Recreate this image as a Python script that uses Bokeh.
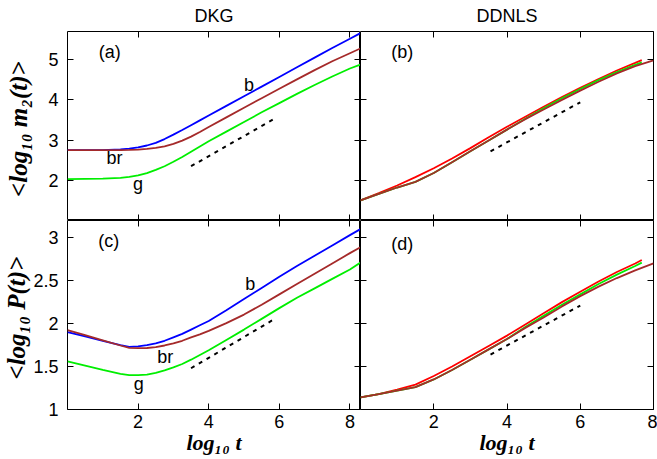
from bokeh.plotting import figure
from bokeh.models import Range1d, LinearAxis, FixedTicker, CustomJSTickFormatter
from bokeh.layouts import gridplot
from bokeh.embed import file_html
from bokeh.resources import INLINE
from bokeh.core.properties import value

# ---------------- data ----------------
# Panel (a): DKG, <log10 m2(t)>
xa = [0.0, 0.5, 1.0, 1.5, 1.75, 2.0, 2.25, 2.5, 2.75, 3.0, 3.25, 3.5, 3.75, 4.0,
      4.5, 5.0, 5.5, 6.0, 6.5, 7.0, 7.5, 8.0, 8.3]
a_blue = [2.75, 2.75, 2.752, 2.768, 2.788, 2.82, 2.865, 2.93, 3.025, 3.135, 3.25, 3.37, 3.49, 3.61,
          3.85, 4.09, 4.33, 4.57, 4.81, 5.05, 5.29, 5.52, 5.66]
a_brown = [2.75, 2.75, 2.75, 2.752, 2.756, 2.765, 2.78, 2.805, 2.845, 2.905, 2.985, 3.085, 3.2, 3.325,
           3.565, 3.805, 4.04, 4.275, 4.51, 4.74, 4.96, 5.16, 5.28]
a_green = [2.03, 2.035, 2.04, 2.06, 2.085, 2.12, 2.18, 2.26, 2.35, 2.46, 2.58, 2.71, 2.84, 2.97,
           3.21, 3.45, 3.69, 3.92, 4.15, 4.37, 4.58, 4.78, 4.88]

# Panel (b): DDNLS, <log10 m2(t)>
xb = [0.0, 0.5, 1.0, 1.5, 2.0, 2.5, 3.0, 3.5, 4.0, 4.5, 5.0, 5.5, 6.0, 6.5, 7.0, 7.5, 7.68]
b_red = [1.5, 1.68, 1.87, 2.08, 2.30, 2.54, 2.80, 3.07, 3.33, 3.58, 3.83, 4.07, 4.30, 4.52, 4.73, 4.92, 4.99]
b_green = [1.5, 1.66, 1.82, 1.96, 2.18, 2.45, 2.72, 2.99, 3.26, 3.53, 3.79, 4.04, 4.27, 4.49, 4.69, 4.87, 4.93]
xb_br = [0.0, 0.5, 1.0, 1.5, 2.0, 2.5, 3.0, 3.5, 4.0, 4.5, 5.0, 5.5, 6.0, 6.5, 7.0, 7.5, 8.0]
b_brown = [1.5, 1.66, 1.82, 1.96, 2.18, 2.45, 2.72, 2.99, 3.26, 3.52, 3.76, 4.00, 4.23, 4.45, 4.66, 4.84, 4.98]

# Panel (c): DKG, <log10 P(t)>
xc = [0.0, 0.5, 1.0, 1.5, 1.75, 2.0, 2.25, 2.5, 2.75, 3.0, 3.25, 3.5, 3.75, 4.0,
      4.5, 5.0, 5.5, 6.0, 6.5, 7.0, 7.5, 8.0, 8.3]
c_blue = [1.90, 1.85, 1.80, 1.75, 1.73, 1.735, 1.75, 1.77, 1.80, 1.84, 1.88, 1.93, 1.98, 2.03,
          2.155, 2.285, 2.415, 2.545, 2.67, 2.79, 2.91, 3.03, 3.10]
c_brown = [1.925, 1.865, 1.805, 1.745, 1.718, 1.714, 1.716, 1.725, 1.745, 1.77, 1.80, 1.84, 1.875, 1.915,
           2.005, 2.105, 2.22, 2.34, 2.46, 2.58, 2.70, 2.82, 2.89]
c_green = [1.56, 1.51, 1.46, 1.415, 1.40, 1.40, 1.405, 1.425, 1.455, 1.49, 1.53, 1.58, 1.635, 1.69,
           1.81, 1.93, 2.055, 2.18, 2.30, 2.41, 2.52, 2.63, 2.71]

# Panel (d): DDNLS, <log10 P(t)>
xd = [0.0, 0.5, 1.0, 1.5, 2.0, 2.5, 3.0, 3.5, 4.0, 4.5, 5.0, 5.5, 6.0, 6.5, 7.0, 7.5, 7.68]
d_red = [1.14, 1.18, 1.23, 1.29, 1.39, 1.50, 1.62, 1.74, 1.86, 1.99, 2.12, 2.25, 2.37, 2.49, 2.60, 2.70, 2.74]
d_green = [1.14, 1.18, 1.22, 1.26, 1.35, 1.46, 1.58, 1.70, 1.82, 1.96, 2.09, 2.22, 2.34, 2.46, 2.57, 2.67, 2.71]
xd_br = [0.0, 0.5, 1.0, 1.5, 2.0, 2.5, 3.0, 3.5, 4.0, 4.5, 5.0, 5.5, 6.0, 6.5, 7.0, 7.5, 8.0]
d_brown = [1.14, 1.18, 1.22, 1.26, 1.35, 1.46, 1.58, 1.70, 1.82, 1.95, 2.07, 2.20, 2.32, 2.43, 2.53, 2.62, 2.70]

# dashed power-law guides
guide_a_x, guide_a_y = [3.5, 5.85], [2.35, 3.525]
guide_b_x, guide_b_y = [3.55, 6.0], [2.72, 3.94]
guide_c_x, guide_c_y = [3.5, 5.85], [1.48, 2.05]
guide_d_x, guide_d_y = [3.55, 6.0], [1.64, 2.21]

x_ticks = [2, 4, 6, 8]
y_ticks_m2 = [2, 3, 4, 5]
y_ticks_p = [1, 1.5, 2, 2.5, 3]

titles = ["DKG", "DDNLS"]
ylabels = ["<log₁₀  m₂(t)>", "<log₁₀  P(t)>"]
xlabel_text = "log₁₀ t"

BLUE, BROWN, GREEN, RED = "#0000ff", "#a52a2a", "#00ee00", "#ff0000"
SANS = "Liberation Sans"
SERIF = "Liberation Serif"
FS = "18px"
LW = 1.8


def make_fig(width, height, xr, yr, bl, br, bt, bb):
    p = figure(width=width, height=height, x_range=Range1d(*xr), y_range=Range1d(*yr),
               output_backend="svg", toolbar_location=None, title_location=None,
               x_axis_location=None, y_axis_location=None,
               min_border_left=bl, min_border_right=br, min_border_top=bt, min_border_bottom=bb)
    for g in p.grid:
        g.visible = False
    p.outline_line_color = "black"
    p.outline_line_width = 1
    p.outline_line_alpha = 1
    p.background_fill_color = "white"
    p.border_fill_color = "white"
    return p


def add_axis(p, loc, ticks, labels, axis_label=None, label_standoff=0, label_size="22px",
             label_font=SERIF, label_style="bold italic"):
    ax = LinearAxis(ticker=FixedTicker(ticks=ticks, minor_ticks=[]),
                    major_tick_in=6, major_tick_out=0, minor_tick_in=0, minor_tick_out=0,
                    axis_line_color=None, major_tick_line_color="black", major_tick_line_width=1,
                    formatter=CustomJSTickFormatter(code="return tick.toString()"))
    if labels:
        ax.major_label_text_font = SANS
        ax.major_label_text_font_size = FS
        ax.major_label_text_color = "black"
        ax.major_label_standoff = 5 if loc == "below" else 9
    else:
        ax.major_label_text_font_size = "0px"
        ax.major_label_standoff = 0
    if axis_label is not None:
        ax.axis_label = axis_label
        ax.axis_label_text_font = label_font
        ax.axis_label_text_font_size = label_size
        ax.axis_label_text_font_style = label_style
        ax.axis_label_text_color = "black"
        ax.axis_label_standoff = label_standoff
    p.add_layout(ax, loc)


def text(p, x, y, s):
    p.text(x=[x], y=[y], text=[s], text_font=value(SANS), text_font_size=FS,
           text_align="center", text_baseline="middle", text_color="black")


# ---- panel a ----
pa = make_fig(360, 220, (0, 8.3), (1, 5.7), 66, 0, 31, 0)
add_axis(pa, "left", y_ticks_m2, True, ylabels[0], 13, "25px")
add_axis(pa, "right", y_ticks_m2, False)
add_axis(pa, "above", x_ticks, False, titles[0], 6, FS, SANS, "normal")
add_axis(pa, "below", x_ticks, False)
pa.line(xa, a_blue, line_color=BLUE, line_width=LW)
pa.line(xa, a_green, line_color=GREEN, line_width=LW)
pa.line(xa, a_brown, line_color=BROWN, line_width=LW)
pa.line(guide_a_x, guide_a_y, line_color="black", line_width=2, line_dash="4 5")
text(pa, 1.2, 5.18, "(a)")
text(pa, 5.14, 4.36, "b")
text(pa, 1.33, 2.56, "br")
text(pa, 2.0, 1.9, "g")

# ---- panel b ----
pb = make_fig(297, 220, (0, 8), (1, 5.7), 0, 4, 31, 0)
add_axis(pb, "left", y_ticks_m2, False)
add_axis(pb, "right", y_ticks_m2, False)
add_axis(pb, "above", x_ticks, False, titles[1], 6, FS, SANS, "normal")
add_axis(pb, "below", x_ticks, False)
pb.line(xb, b_red, line_color=RED, line_width=LW)
pb.line(xb, b_green, line_color=GREEN, line_width=LW)
pb.line(xb_br, b_brown, line_color=BROWN, line_width=LW)
pb.line(guide_b_x, guide_b_y, line_color="black", line_width=2, line_dash="4 5")
text(pb, 1.14, 5.19, "(b)")

# ---- panel c ----
pc = make_fig(360, 239, (0, 8.3), (1, 3.2), 66, 0, 0, 50)
add_axis(pc, "left", y_ticks_p, True, ylabels[1], 0, "25px")
add_axis(pc, "right", y_ticks_p, False)
add_axis(pc, "above", x_ticks, False)
add_axis(pc, "below", x_ticks, True, xlabel_text, -1)
pc.line(xc, c_blue, line_color=BLUE, line_width=LW)
pc.line(xc, c_green, line_color=GREEN, line_width=LW)
pc.line(xc, c_brown, line_color=BROWN, line_width=LW)
pc.line(guide_c_x, guide_c_y, line_color="black", line_width=2, line_dash="4 5")
text(pc, 1.17, 2.96, "(c)")
text(pc, 5.18, 2.46, "b")
text(pc, 2.77, 1.61, "br")
text(pc, 2.02, 1.30, "g")

# ---- panel d ----
pd = make_fig(297, 239, (0, 8), (1, 3.2), 0, 4, 0, 50)
add_axis(pd, "left", y_ticks_p, False)
add_axis(pd, "right", y_ticks_p, False)
add_axis(pd, "above", x_ticks, False)
add_axis(pd, "below", x_ticks, True, xlabel_text, -1)
pd.line(xd, d_red, line_color=RED, line_width=LW)
pd.line(xd, d_green, line_color=GREEN, line_width=LW)
pd.line(xd_br, d_brown, line_color=BROWN, line_width=LW)
pd.line(guide_d_x, guide_d_y, line_color="black", line_width=2, line_dash="4 5")
text(pd, 1.14, 2.93, "(d)")

grid = gridplot([[pa, pb], [pc, pd]], toolbar_location=None)

open("out.html", "w").write(file_html(grid, INLINE))
